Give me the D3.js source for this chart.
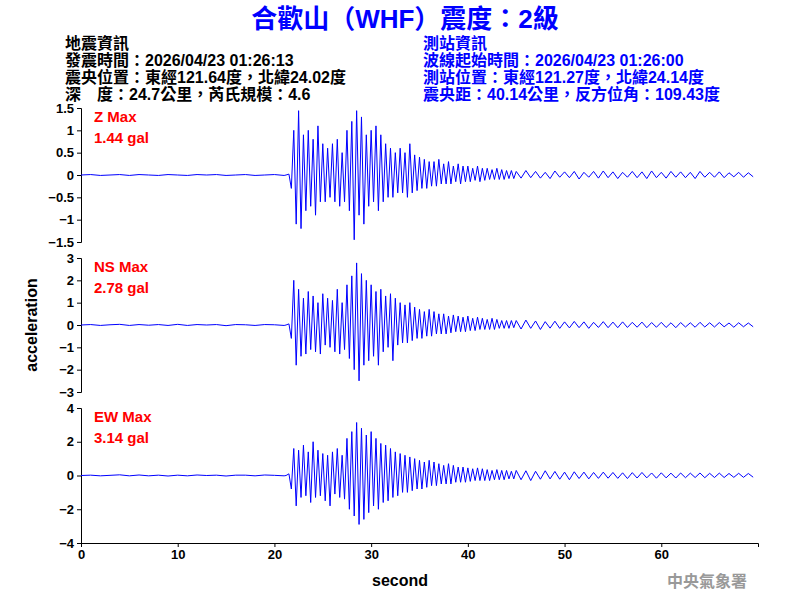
<!DOCTYPE html>
<html><head><meta charset="utf-8">
<script src="https://cdn.jsdelivr.net/npm/d3@7"></script>
<style>
body{margin:0;background:#fff}
text{font-family:"Liberation Sans","Noto Sans CJK TC",sans-serif}
</style></head><body>
<div id="chart"></div>
<script>
// quiet part, 1 s step from 0 to 21
const quiet = {
  Z:  [0,0.01,-0.01,0,0.01,-0.01,0.01,0,-0.01,0.01,0,-0.01,0.01,0,0.01,-0.01,0,0.01,-0.01,0,0.01,-0.01],
  NS: [0,0.02,-0.02,0.01,0.03,-0.02,0.02,-0.01,0.02,-0.02,0.03,-0.02,0.02,0,0.02,-0.03,0.02,0.01,-0.02,0.02,0.01,-0.02],
  EW: [0,0.02,-0.02,0.01,0.04,-0.02,0.03,-0.02,0.02,-0.03,0.02,-0.02,0.03,0,0.02,-0.03,0.02,0.02,-0.02,0.03,0.01,-0.02]
};
// active part, 0.25 s step from 21.5
const activeZ = [0.02,-0.3,1.0,-1.1,1.44,-1.2,0.9,-0.8,
  1.0,-0.7,0.8,-0.9,1.1,-0.6,0.7,-0.6,
  0.6,-0.5,0.7,-0.6,0.8,-0.7,0.5,-0.6,
  1.0,-0.8,1.2,-1.45,1.44,-0.9,1.3,-1.1,
  0.9,-0.7,1.0,-0.6,1.1,-0.8,0.9,-0.6,
  0.7,-0.5,0.6,-0.5,0.5,-0.4,0.6,-0.4,
  0.5,-0.5,0.7,-0.4,0.45,-0.35,0.4,-0.3,
  0.35,-0.3,0.3,-0.25,0.3,-0.25,0.35,-0.2,
  0.25,-0.2,0.3,-0.2,0.2,-0.15,0.25,-0.2,
  0.2,-0.15,0.2,-0.15,0.15,-0.12,0.2,-0.15,
  0.15,-0.12,0.15,-0.1,0.12,-0.1,0.15,-0.1,
  0.12,-0.1,0.1,-0.08,0.1,-0.08];
const activeNS = [0.05,-0.6,2.0,-1.8,1.6,-1.4,1.2,-1.3,
  1.5,-1.1,1.3,-1.2,1.0,-1.3,1.4,-0.9,
  1.2,-1.0,1.1,-1.2,1.6,-1.3,1.0,-1.1,
  1.8,-1.5,2.2,-2.0,2.78,-2.5,2.3,-1.8,
  2.0,-1.6,1.8,-1.4,1.5,-1.8,1.6,-1.2,
  1.3,-1.0,1.4,-1.6,1.2,-0.9,1.0,-0.8,
  0.9,-0.8,1.0,-0.7,0.8,-0.6,0.7,-0.6,
  0.6,-0.5,0.7,-0.5,0.6,-0.4,0.5,-0.4,
  0.5,-0.4,0.4,-0.35,0.45,-0.3,0.4,-0.3,
  0.35,-0.3,0.4,-0.25,0.3,-0.25,0.35,-0.2,
  0.3,-0.2,0.25,-0.2,0.3,-0.2,0.25,-0.15,
  0.2,-0.15,0.2,-0.15,0.2,-0.12];
const activeEW = [0.1,-0.8,1.6,-1.8,1.5,-1.3,1.8,-1.2,
  1.4,-1.6,2.0,-1.3,1.5,-1.2,1.3,-1.5,
  1.2,-1.8,1.4,-1.1,1.6,-1.3,1.2,-1.4,
  2.2,-2.0,2.6,-2.4,3.14,-2.9,2.8,-2.6,
  2.4,-2.2,2.6,-1.8,2.2,-2.0,1.9,-1.6,
  1.8,-1.5,1.6,-1.3,1.4,-1.2,1.3,-1.0,
  1.2,-1.0,1.1,-0.9,1.0,-0.8,0.9,-0.8,
  0.8,-0.7,0.9,-0.6,0.8,-0.6,0.7,-0.5,
  0.6,-0.5,0.7,-0.5,0.6,-0.4,0.5,-0.4,
  0.5,-0.4,0.45,-0.35,0.4,-0.3,0.45,-0.3,
  0.4,-0.3,0.35,-0.3,0.3,-0.25,0.35,-0.25,
  0.3,-0.25,0.3,-0.2,0.25,-0.2];
// tail, 0.5 s step from 45
const tailZ = [0.08,-0.07,0.1,-0.06,0.08,-0.07,0.06,-0.08,0.09,-0.05,0.07,-0.06,0.08,-0.09,0.06,-0.05,0.08,-0.07,0.09,-0.06,
  0.07,-0.08,0.06,-0.05,0.08,-0.06,0.07,-0.08,0.09,-0.06,0.06,-0.07,0.08,-0.05,0.07,-0.06,0.06,-0.08,0.08,-0.05,
  0.06,-0.05,0.07,-0.06,0.05,-0.04,0.06,-0.05,0.05,-0.04];
const tailNS = [0.2,-0.18,0.22,-0.15,0.18,-0.2,0.15,-0.14,0.17,-0.15,0.14,-0.13,0.16,-0.12,0.14,-0.15,0.12,-0.11,0.15,-0.12,
  0.13,-0.12,0.14,-0.11,0.12,-0.1,0.13,-0.12,0.11,-0.1,0.12,-0.11,0.1,-0.12,0.11,-0.09,0.1,-0.1,0.12,-0.09,
  0.1,-0.09,0.11,-0.08,0.09,-0.1,0.1,-0.08,0.09,-0.08];
const tailEW = [0.3,-0.25,0.28,-0.3,0.25,-0.22,0.28,-0.2,0.24,-0.22,0.2,-0.25,0.22,-0.18,0.2,-0.2,0.18,-0.17,0.2,-0.16,
  0.18,-0.17,0.16,-0.18,0.17,-0.15,0.18,-0.14,0.15,-0.16,0.16,-0.14,0.14,-0.15,0.15,-0.13,0.14,-0.12,0.15,-0.13,
  0.13,-0.12,0.14,-0.12,0.12,-0.11,0.13,-0.11,0.12,-0.1];

const channels = ["Z", "NS", "EW"];
const maxLabels = ["1.44 gal", "2.78 gal", "3.14 gal"];
const yTicks = [[-1.5,-1,-0.5,0,0.5,1,1.5],[-3,-2,-1,0,1,2,3],[-4,-2,0,2,4]];
const yDomains = [[-1.5,1.5],[-3,3],[-4,4]];
const xTicks = [0,10,20,30,40,50,60];
const active = {Z: activeZ, NS: activeNS, EW: activeEW};
const tail = {Z: tailZ, NS: tailNS, EW: tailEW};

const leftInfo = ["地震資訊","發震時間：2026/04/23 01:26:13","震央位置：東經121.64度，北緯24.02度","深　度：24.7公里，芮氏規模：4.6"];
const rightInfo = ["測站資訊","波線起始時間：2026/04/23 01:26:00","測站位置：東經121.27度，北緯24.14度","震央距：40.14公里，反方位角：109.43度"];

const W = 800, H = 600;
const svg = d3.select("#chart").append("svg").attr("width", W).attr("height", H);
const x = d3.scaleLinear().domain([0, 70]).range([81, 758]);
const bands = [[108, 242], [258, 392], [408, 543]];

svg.append("text").attr("x", 405).attr("y", 28).attr("text-anchor", "middle")
  .attr("font-size", 26).attr("font-weight", "bold").attr("fill", "#0000ff")
  .text("合歡山（WHF）震度：2級");
leftInfo.forEach((t, i) => svg.append("text").attr("x", 65).attr("y", 49 + i * 17)
  .attr("font-size", 16).attr("font-weight", "bold").attr("fill", "#000").text(t));
rightInfo.forEach((t, i) => svg.append("text").attr("x", 423).attr("y", 49 + i * 17)
  .attr("font-size", 16).attr("font-weight", "bold").attr("fill", "#0000ff").text(t));

function series(ch) {
  const pts = [];
  quiet[ch].forEach((v, i) => pts.push([i, v]));
  pts.push([21.2, 0]);
  active[ch].forEach((v, i) => pts.push([21.5 + i * 0.25, v]));
  tail[ch].forEach((v, i) => pts.push([45 + i * 0.5, v]));
  return pts;
}

channels.forEach((ch, k) => {
  const y = d3.scaleLinear().domain(yDomains[k]).range([bands[k][1], bands[k][0]]);
  svg.append("g").attr("transform", `translate(81,0)`)
    .call(d3.axisLeft(y).tickValues(yTicks[k]).tickSize(4).tickFormat(d3.format("")))
    .call(g => g.selectAll("text").attr("font-size", 13).attr("font-weight", "bold").attr("fill", "#000"))
    .call(g => g.selectAll("line,path").attr("stroke", "#000"));
  svg.append("path").datum(series(ch))
    .attr("d", d3.line().x(d => x(d[0])).y(d => y(d[1])))
    .attr("fill", "none").attr("stroke", "#0000ff").attr("stroke-width", 1);
  svg.append("text").attr("x", 94).attr("y", bands[k][0] + 14).attr("font-size", 15)
    .attr("font-weight", "bold").attr("fill", "#ff0000").text(ch + " Max");
  svg.append("text").attr("x", 94).attr("y", bands[k][0] + 35).attr("font-size", 15)
    .attr("font-weight", "bold").attr("fill", "#ff0000").text(maxLabels[k]);
});

svg.append("g").attr("transform", "translate(0,543)")
  .call(d3.axisBottom(x).tickValues(xTicks).tickSize(4).tickFormat(d3.format("")))
  .call(g => g.selectAll("text").attr("font-size", 13).attr("font-weight", "bold").attr("fill", "#000"))
  .call(g => g.selectAll("line,path").attr("stroke", "#000"));

svg.append("text").attr("x", 400).attr("y", 586).attr("text-anchor", "middle")
  .attr("font-size", 16).attr("font-weight", "bold").text("second");
svg.append("text").attr("transform", "translate(37,325) rotate(-90)").attr("text-anchor", "middle")
  .attr("font-size", 16).attr("font-weight", "bold").text("acceleration");
svg.append("text").attr("x", 747).attr("y", 587).attr("text-anchor", "end")
  .attr("font-size", 16).attr("font-weight", "bold").attr("fill", "#999").text("中央氣象署");
</script></body></html>
